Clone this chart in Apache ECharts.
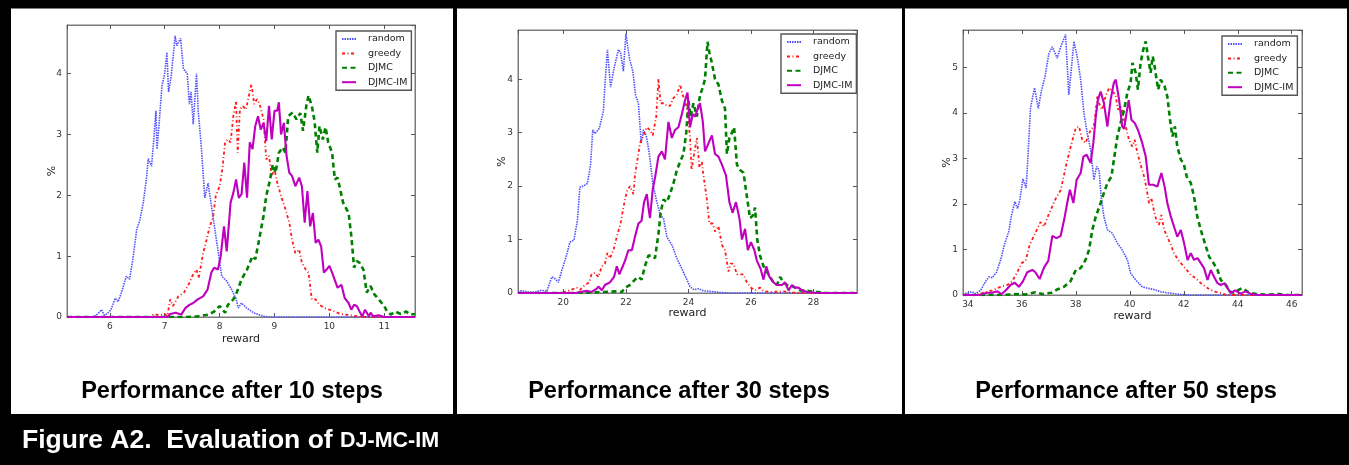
<!DOCTYPE html>
<html>
<head>
<meta charset="utf-8">
<script src="https://cdn.jsdelivr.net/npm/echarts@6/dist/echarts.min.js"></script>
<style>
html,body{margin:0;padding:0;background:#fff;}
#chart{width:1349px;height:465px;}
</style>
</head>
<body>
<div id="chart"></div>
<script>
// ---------- data (reward, %) ----------
const seriesNames = ['random', 'greedy', 'DJMC', 'DJMC-IM'];
const panelTitles = ['Performance after 10 steps', 'Performance after 30 steps', 'Performance after 50 steps'];
const figureCaption = 'Figure A2.  Evaluation of ';
const figureCaptionSmall = 'DJ-MC-IM';
const xAxisName = 'reward';
const yAxisName = '%';
const xRanges = [[5.22, 11.56], [18.55, 29.39], [33.82, 46.38]];
const yMaxes = [4.8, 4.92, 5.82];

const p10_random = [[5.22,0],[5.7,0],[5.78,0.05],[5.85,0.12],[5.9,0.03],[5.95,0.05],[6.02,0.12],[6.1,0.31],[6.15,0.25],[6.22,0.42],[6.3,0.67],[6.36,0.62],[6.42,0.95],[6.49,1.44],[6.55,1.6],[6.61,1.88],[6.67,2.3],[6.7,2.6],[6.76,2.48],[6.8,2.9],[6.84,3.39],[6.86,2.76],[6.9,3.2],[6.95,3.8],[7.0,4.0],[7.04,4.35],[7.07,3.7],[7.12,3.97],[7.19,4.62],[7.22,4.46],[7.29,4.58],[7.34,4.08],[7.41,4.0],[7.45,3.5],[7.48,3.7],[7.52,3.17],[7.58,4.0],[7.61,3.4],[7.67,2.76],[7.73,1.96],[7.79,2.2],[7.86,1.77],[7.95,1.22],[8.04,0.67],[8.13,0.59],[8.22,0.45],[8.3,0.3],[8.34,0.15],[8.4,0.23],[8.49,0.15],[8.62,0.07],[8.8,0.01],[8.9,0],[11.56,0]];
const p10_greedy = [[5.22,0],[6.75,0],[6.8,0.05],[6.9,0.03],[7.0,0.05],[7.05,0.02],[7.1,0.29],[7.15,0.18],[7.25,0.34],[7.35,0.4],[7.45,0.56],[7.5,0.67],[7.58,0.78],[7.62,0.64],[7.7,1.05],[7.75,1.22],[7.82,1.49],[7.88,1.63],[7.93,1.99],[8.0,2.15],[8.05,2.43],[8.1,2.87],[8.15,2.92],[8.2,2.87],[8.25,3.3],[8.3,3.55],[8.33,2.7],[8.37,3.41],[8.42,3.47],[8.48,3.41],[8.52,3.58],[8.58,3.83],[8.63,3.5],[8.68,3.58],[8.73,3.5],[8.8,3.25],[8.85,2.59],[8.9,2.65],[8.95,2.32],[9.0,2.43],[9.05,2.21],[9.12,1.99],[9.2,1.77],[9.27,1.55],[9.32,1.27],[9.38,1.05],[9.45,1.11],[9.5,0.89],[9.57,0.78],[9.62,0.73],[9.68,0.29],[9.75,0.29],[9.82,0.2],[9.9,0.15],[10.0,0.12],[10.1,0.09],[10.2,0.05],[10.3,0.04],[10.45,0.02],[10.6,0],[11.56,0]];
const p10_djmc = [[5.22,0],[7.4,0],[7.6,0.01],[7.8,0.04],[7.9,0.09],[8.0,0.18],[8.1,0.07],[8.15,0.2],[8.25,0.29],[8.32,0.42],[8.4,0.62],[8.5,0.78],[8.6,1.0],[8.65,0.95],[8.72,1.27],[8.8,1.66],[8.85,1.99],[8.92,2.26],[8.97,2.51],[9.02,2.37],[9.08,2.7],[9.15,2.79],[9.2,2.7],[9.25,3.3],[9.33,3.36],[9.4,3.25],[9.47,3.35],[9.52,3.06],[9.58,3.47],[9.62,3.64],[9.68,3.47],[9.73,3.22],[9.78,2.7],[9.82,3.14],[9.88,2.92],[9.93,3.12],[9.98,2.87],[10.05,2.7],[10.1,2.26],[10.15,2.29],[10.25,1.88],[10.35,1.71],[10.4,1.33],[10.45,0.81],[10.5,0.92],[10.55,0.89],[10.62,0.78],[10.68,0.4],[10.75,0.51],[10.82,0.37],[10.9,0.29],[11.0,0.18],[11.05,0.09],[11.12,0.04],[11.2,0.09],[11.3,0.05],[11.4,0.09],[11.47,0.04],[11.56,0.05]];
const p10_djmcim = [[5.22,0],[7.05,0],[7.1,0.05],[7.2,0.07],[7.3,0.04],[7.38,0.15],[7.45,0.2],[7.52,0.23],[7.6,0.29],[7.7,0.34],[7.78,0.45],[7.85,0.73],[7.9,0.81],[7.97,0.78],[8.02,1.0],[8.08,1.49],[8.13,1.08],[8.2,1.88],[8.25,2.04],[8.3,2.26],[8.35,1.96],[8.4,2.02],[8.45,2.54],[8.5,1.96],[8.55,2.87],[8.6,2.76],[8.65,3.14],[8.7,3.3],[8.75,3.08],[8.8,3.19],[8.85,2.89],[8.9,3.47],[8.95,2.92],[9.0,3.39],[9.05,3.39],[9.08,3.53],[9.12,3.0],[9.17,3.19],[9.22,2.65],[9.27,2.37],[9.32,2.32],[9.38,2.15],[9.45,2.29],[9.5,2.15],[9.55,1.55],[9.6,2.07],[9.65,1.49],[9.7,1.71],[9.75,1.22],[9.8,1.27],[9.85,1.16],[9.9,0.73],[9.95,0.78],[10.0,0.84],[10.05,0.73],[10.15,0.48],[10.22,0.53],[10.28,0.31],[10.35,0.23],[10.4,0.12],[10.45,0.2],[10.5,0.18],[10.55,0.09],[10.6,0.01],[10.65,0.12],[10.72,0.01],[10.75,0.07],[10.8,0.01],[10.9,0.03],[11.0,0],[11.56,0]];

const p30_random = [[18.55,0.02],[18.65,0.04],[18.8,0.03],[18.9,0.01],[19.1,0.02],[19.3,0.05],[19.47,0.03],[19.63,0.3],[19.73,0.27],[19.84,0.2],[19.95,0.42],[20.1,0.7],[20.21,0.95],[20.34,0.99],[20.45,1.36],[20.53,1.98],[20.64,2.0],[20.77,2.05],[20.87,2.4],[20.94,3.05],[21.01,2.98],[21.15,3.08],[21.28,3.4],[21.33,3.9],[21.41,4.55],[21.51,3.85],[21.62,4.2],[21.76,4.55],[21.83,4.5],[21.92,4.15],[22.0,4.85],[22.11,4.4],[22.22,4.15],[22.31,3.7],[22.4,3.55],[22.49,2.8],[22.56,3.05],[22.65,2.95],[22.75,2.6],[22.86,2.05],[22.99,1.7],[23.11,1.45],[23.2,1.4],[23.31,1.05],[23.47,0.9],[23.63,0.65],[23.79,0.45],[23.95,0.25],[24.05,0.12],[24.18,0.06],[24.32,0.08],[24.48,0.04],[24.69,0.03],[25.0,0.01],[25.3,0],[29.39,0]];
const p30_greedy = [[18.55,0],[19.9,0],[20.0,0.01],[20.21,0.05],[20.43,0.1],[20.53,0.06],[20.69,0.15],[20.83,0.2],[20.9,0.35],[21.01,0.38],[21.12,0.3],[21.23,0.5],[21.33,0.55],[21.41,0.75],[21.49,0.65],[21.6,0.8],[21.71,1.05],[21.83,1.3],[21.92,1.6],[22.03,1.9],[22.13,2.0],[22.24,1.85],[22.29,2.2],[22.4,2.6],[22.45,2.8],[22.56,2.95],[22.67,3.1],[22.77,3.05],[22.86,2.95],[22.97,3.3],[23.04,4.0],[23.11,3.55],[23.22,3.55],[23.31,3.5],[23.41,3.5],[23.52,3.65],[23.63,3.7],[23.73,3.9],[23.82,3.7],[23.89,3.6],[23.97,3.4],[24.05,2.9],[24.1,2.3],[24.18,2.6],[24.27,2.9],[24.35,2.35],[24.43,2.45],[24.48,2.2],[24.59,1.75],[24.67,1.3],[24.78,1.3],[24.85,1.15],[24.96,1.25],[25.07,0.9],[25.17,0.8],[25.28,0.4],[25.35,0.55],[25.44,0.55],[25.55,0.35],[25.65,0.35],[25.76,0.35],[25.87,0.2],[26.0,0.1],[26.13,0.05],[26.29,0.1],[26.4,0.03],[26.72,0.02],[27.04,0.03],[27.25,0.01],[27.6,0],[29.39,0]];
const p30_djmc = [[18.55,0],[20.5,0],[20.9,0.01],[21.28,0.02],[21.7,0.03],[21.87,0.02],[21.97,0.1],[22.13,0.15],[22.29,0.25],[22.4,0.3],[22.5,0.25],[22.61,0.5],[22.72,0.7],[22.83,0.7],[22.93,0.65],[23.04,1.1],[23.11,1.5],[23.2,1.75],[23.31,1.7],[23.41,1.85],[23.52,2.05],[23.63,2.3],[23.73,2.45],[23.84,2.6],[23.93,3.0],[24.0,3.6],[24.07,3.3],[24.16,3.55],[24.27,3.3],[24.37,3.7],[24.46,3.85],[24.53,4.0],[24.61,4.7],[24.67,4.5],[24.75,4.3],[24.85,4.0],[24.96,3.9],[25.07,3.6],[25.17,3.45],[25.23,2.6],[25.31,2.9],[25.39,3.0],[25.46,3.1],[25.55,2.4],[25.65,2.3],[25.76,2.25],[25.87,1.8],[25.97,1.4],[26.06,1.45],[26.13,1.6],[26.2,1.0],[26.29,0.7],[26.4,0.5],[26.51,0.4],[26.61,0.3],[26.72,0.2],[26.83,0.15],[26.93,0.3],[27.04,0.2],[27.15,0.15],[27.25,0.15],[27.41,0.1],[27.57,0.05],[27.73,0.05],[27.89,0.03],[28.1,0.02],[28.4,0],[29.39,0]];
const p30_djmcim = [[18.55,0],[20.4,0],[20.53,0.02],[20.75,0.04],[20.9,0.02],[21.07,0.08],[21.12,0.12],[21.23,0.05],[21.33,0.15],[21.49,0.2],[21.62,0.3],[21.71,0.5],[21.79,0.35],[21.9,0.5],[21.97,0.6],[22.08,0.8],[22.19,0.8],[22.29,1.05],[22.4,1.3],[22.5,1.35],[22.58,1.7],[22.67,1.85],[22.72,1.6],[22.77,1.4],[22.86,1.95],[22.93,2.15],[23.04,2.55],[23.15,2.65],[23.25,2.5],[23.36,3.2],[23.47,2.9],[23.57,3.05],[23.68,3.1],[23.79,3.35],[23.89,3.6],[23.97,3.75],[24.05,3.1],[24.14,3.35],[24.21,3.3],[24.3,3.45],[24.37,3.55],[24.46,3.2],[24.53,2.65],[24.64,2.8],[24.75,2.95],[24.85,2.6],[24.96,2.55],[25.07,2.4],[25.2,2.2],[25.31,1.7],[25.41,1.5],[25.52,1.7],[25.63,1.4],[25.71,1.0],[25.81,1.2],[25.9,0.8],[26.0,0.95],[26.11,0.8],[26.19,0.6],[26.31,0.45],[26.4,0.25],[26.49,0.5],[26.59,0.3],[26.72,0.2],[26.83,0.15],[26.99,0.15],[27.09,0.2],[27.2,0.05],[27.31,0.15],[27.41,0.1],[27.52,0.1],[27.63,0.05],[27.8,0.02],[28.1,0],[29.39,0]];

const p50_random = [[33.82,0],[33.9,0.03],[34.16,0.07],[34.28,0.03],[34.47,0.1],[34.66,0.3],[34.78,0.4],[34.9,0.38],[35.06,0.5],[35.23,0.8],[35.35,1.1],[35.52,1.4],[35.6,1.7],[35.74,2.05],[35.84,1.9],[35.93,2.1],[36.04,2.55],[36.16,2.35],[36.24,3.2],[36.32,4.1],[36.47,4.55],[36.61,4.1],[36.73,4.5],[36.86,4.8],[37.0,5.3],[37.13,5.45],[37.31,5.2],[37.44,5.45],[37.62,5.72],[37.74,4.4],[37.84,5.0],[37.93,5.57],[38.05,5.24],[38.18,4.73],[38.3,4.0],[38.42,3.56],[38.55,3.19],[38.67,2.53],[38.77,2.82],[38.86,2.75],[38.94,2.16],[39.04,1.72],[39.17,1.43],[39.35,1.36],[39.54,1.14],[39.72,0.99],[39.91,0.77],[40.03,0.48],[40.22,0.33],[40.46,0.18],[40.65,0.15],[40.9,0.12],[41.14,0.07],[41.5,0.04],[41.9,0.01],[42.2,0],[46.38,0]];
const p50_greedy = [[33.82,0],[34.2,0],[34.53,0.04],[34.9,0.1],[35.21,0.18],[35.46,0.22],[35.64,0.3],[35.83,0.5],[35.99,0.7],[36.14,0.75],[36.29,1.1],[36.45,1.3],[36.61,1.5],[36.69,1.6],[36.82,1.5],[36.98,1.75],[37.13,1.95],[37.28,2.15],[37.44,2.3],[37.63,2.82],[37.81,3.26],[38.0,3.67],[38.12,3.7],[38.24,3.4],[38.36,3.34],[38.55,3.63],[38.67,3.7],[38.8,4.36],[38.9,4.14],[38.98,4.07],[39.1,4.36],[39.23,4.55],[39.35,4.47],[39.47,4.4],[39.56,4.07],[39.66,4.14],[39.76,3.92],[39.88,3.63],[39.97,3.41],[40.09,3.26],[40.18,3.41],[40.28,3.12],[40.4,2.86],[40.53,2.6],[40.63,2.31],[40.71,2.02],[40.8,2.13],[40.9,1.83],[41.0,1.61],[41.08,1.54],[41.17,1.76],[41.27,1.43],[41.39,1.28],[41.52,1.1],[41.64,0.92],[41.79,0.77],[41.95,0.66],[42.11,0.55],[42.26,0.44],[42.44,0.37],[42.63,0.26],[42.81,0.18],[43.0,0.11],[43.18,0.07],[43.37,0.04],[43.6,0],[46.38,0]];
const p50_djmc = [[33.82,0],[35.2,0],[35.8,0.02],[36.14,0.01],[36.51,0.06],[36.76,0.02],[37.1,0.05],[37.3,0.12],[37.56,0.18],[37.8,0.3],[38.0,0.55],[38.18,0.59],[38.36,0.77],[38.49,0.99],[38.61,1.43],[38.74,1.72],[38.92,2.02],[39.04,2.24],[39.17,2.46],[39.32,2.6],[39.41,2.97],[39.54,3.48],[39.66,3.78],[39.79,4.07],[39.91,4.44],[40.03,4.66],[40.1,5.1],[40.22,4.88],[40.3,4.51],[40.4,5.1],[40.5,5.39],[40.59,5.57],[40.67,5.24],[40.77,4.88],[40.85,5.24],[40.92,5.02],[41.05,4.51],[41.14,4.73],[41.29,4.58],[41.39,4.36],[41.49,3.85],[41.58,3.48],[41.67,3.7],[41.76,3.26],[41.89,2.97],[41.99,2.9],[42.11,2.6],[42.26,2.46],[42.38,2.16],[42.5,1.72],[42.63,1.43],[42.78,1.14],[42.94,0.84],[43.1,0.7],[43.25,0.55],[43.37,0.33],[43.56,0.22],[43.7,0.08],[43.85,0.05],[44.0,0.1],[44.15,0.15],[44.3,0.1],[44.42,0.05],[44.7,0.02],[45.04,0.01],[45.53,0.02],[45.8,0],[46.38,0]];
const p50_djmcim = [[33.82,0],[34.4,0],[34.53,0.02],[34.72,0.05],[34.9,0.05],[35.09,0.08],[35.25,0.02],[35.4,0.1],[35.58,0.22],[35.74,0.27],[35.89,0.18],[36.04,0.3],[36.2,0.5],[36.39,0.55],[36.5,0.5],[36.66,0.35],[36.82,0.6],[36.98,0.75],[37.13,1.3],[37.28,1.25],[37.44,1.3],[37.59,1.72],[37.68,2.02],[37.78,2.31],[37.91,2.02],[38.03,2.53],[38.18,2.68],[38.28,3.04],[38.4,3.08],[38.55,2.9],[38.65,3.34],[38.74,3.92],[38.82,4.29],[38.92,4.47],[39.04,4.22],[39.17,3.7],[39.29,4.29],[39.41,4.66],[39.48,4.73],[39.6,4.3],[39.72,3.7],[39.79,3.65],[39.88,4.0],[39.96,4.28],[40.06,3.85],[40.18,3.78],[40.3,3.63],[40.46,3.34],[40.59,3.04],[40.71,2.42],[40.87,2.42],[41.02,2.38],[41.17,2.68],[41.29,2.38],[41.39,2.02],[41.52,1.72],[41.64,1.5],[41.76,1.28],[41.89,1.43],[42.01,1.14],[42.14,0.77],[42.26,0.92],[42.38,0.77],[42.51,0.81],[42.63,0.7],[42.75,0.59],[42.88,0.33],[43.0,0.55],[43.12,0.4],[43.25,0.26],[43.37,0.22],[43.52,0.26],[43.62,0.15],[43.74,0.04],[43.9,0.1],[44.1,0.03],[44.3,0.08],[44.5,0.02],[44.8,0],[46.38,0]];

const panelData = [
  [p10_random, p10_greedy, p10_djmc, p10_djmcim],
  [p30_random, p30_greedy, p30_djmc, p30_djmcim],
  [p50_random, p50_greedy, p50_djmc, p50_djmcim]
];

// ---------- layout & style ----------
const grids = [
  {left: 67, top: 25, width: 348, height: 292},
  {left: 518, top: 30, width: 339, height: 263},
  {left: 963, top: 30, width: 339, height: 265}
];
const xSplit = [6, 5, 6];
const xNameGaps = [17, 15, 16];
const yNameGaps = [9.5, 10, 10];
const legendPos = [{left: 336, top: 31}, {left: 781, top: 34}, {left: 1222, top: 36}];
const titleCenters = [232, 679, 1126];
const lineStyles = [
  {color: '#5050ff', width: 1.6, type: [1.5, 1]},
  {color: '#ff1a1a', width: 1.8, type: [3, 2.5, 1, 2.5]},
  {color: '#008000', width: 2.6, type: [5, 3.5]},
  {color: '#bf00bf', width: 2.1, type: 'solid'}
];
const frameColor = '#7a7a7a';
const tickFont = {fontFamily: 'DejaVu Sans', fontSize: 9, color: '#333'};
const intFmt = v => (Math.abs(v - Math.round(v)) < 1e-6 ? String(Math.round(v)) : '');

const xAxes = [], yAxes = [], series = [], legends = [];
for (let p = 0; p < 3; p++) {
  const common = {
    gridIndex: p, type: 'value',
    axisLine: {show: true, onZero: false, lineStyle: {color: frameColor, width: 1}},
    axisTick: {show: true, inside: true, length: 4, lineStyle: {color: '#555', width: 1}},
    splitLine: {show: false}
  };
  xAxes.push(Object.assign({}, common, {
    position: 'bottom', min: xRanges[p][0], max: xRanges[p][1], splitNumber: xSplit[p],
    axisLabel: Object.assign({formatter: intFmt, margin: 5, showMinLabel: false, showMaxLabel: false}, tickFont),
    name: xAxisName, nameLocation: 'middle', nameGap: xNameGaps[p], nameMoveOverlap: false,
    nameTextStyle: {fontFamily: 'DejaVu Sans', fontSize: 11, color: '#222'}
  }));
  yAxes.push(Object.assign({}, common, {
    position: 'left', min: 0, max: yMaxes[p], interval: 1,
    axisLabel: Object.assign({formatter: intFmt, margin: 5, showMaxLabel: false}, tickFont),
    name: yAxisName, nameLocation: 'middle', nameGap: yNameGaps[p], nameRotate: 90, nameMoveOverlap: false,
    nameTextStyle: {fontFamily: 'DejaVu Sans', fontSize: 11, color: '#222'}
  }));
}
for (let p = 0; p < 3; p++) {
  const mirror = {
    gridIndex: p, type: 'value',
    axisLine: {show: true, onZero: false, lineStyle: {color: frameColor, width: 1}},
    axisTick: {show: true, inside: true, length: 4, lineStyle: {color: '#555', width: 1}},
    axisLabel: {show: false}, splitLine: {show: false}
  };
  xAxes.push(Object.assign({}, mirror, {position: 'top', min: xRanges[p][0], max: xRanges[p][1], splitNumber: xSplit[p]}));
  yAxes.push(Object.assign({}, mirror, {position: 'right', min: 0, max: yMaxes[p], interval: 1}));
}
for (let p = 0; p < 3; p++) {
  for (let s = 0; s < 4; s++) {
    series.push({
      type: 'line', name: seriesNames[s], xAxisIndex: p, yAxisIndex: p,
      data: panelData[p][s], showSymbol: false, symbol: 'none',
      lineStyle: Object.assign({}, lineStyles[s]), itemStyle: {color: lineStyles[s].color},
      z: 2 + s, animation: false, silent: true
    });
  }
  legends.push({
    data: seriesNames, orient: 'vertical', left: legendPos[p].left, top: legendPos[p].top,
    itemWidth: 14, itemHeight: 10, itemGap: 4.4, selectedMode: false,
    itemStyle: {opacity: 0, borderWidth: 0},
    padding: [3, 4, 3, 5], borderColor: '#555', borderWidth: 1.4, borderRadius: 0,
    backgroundColor: '#fff',
    textStyle: {fontFamily: 'DejaVu Sans', fontSize: 9.5, color: '#222', padding: [0, 0, 0, 7]}
  });
}

const graphics = [
  {type: 'rect', shape: {x: 0, y: 0, width: 1349, height: 8.5}, style: {fill: '#000'}},
  {type: 'rect', shape: {x: 0, y: 0, width: 11, height: 465}, style: {fill: '#000'}},
  {type: 'rect', shape: {x: 1347, y: 0, width: 2, height: 465}, style: {fill: '#000'}},
  {type: 'rect', shape: {x: 453, y: 0, width: 4, height: 414}, style: {fill: '#000'}},
  {type: 'rect', shape: {x: 902, y: 0, width: 3, height: 414}, style: {fill: '#000'}},
  {type: 'rect', shape: {x: 0, y: 414, width: 1349, height: 51}, style: {fill: '#000'}}
];
for (let p = 0; p < 3; p++) {
  graphics.push({
    type: 'text', x: titleCenters[p], y: 392,
    style: {text: panelTitles[p], textAlign: 'center', textVerticalAlign: 'middle',
      font: 'bold 23.5px "Liberation Sans", Arial, sans-serif', fill: '#000'}
  });
}
graphics.push({
  type: 'text', x: 22, y: 441,
  style: {
    text: '{a|' + figureCaption + '}{b|' + figureCaptionSmall + '}',
    textVerticalAlign: 'middle', textAlign: 'left',
    rich: {
      a: {fontFamily: '"Liberation Sans", Arial, sans-serif', fontWeight: 'bold', fontSize: 26.5, fill: '#fff', color: '#fff'},
      b: {fontFamily: '"Liberation Sans", Arial, sans-serif', fontWeight: 'bold', fontSize: 21.5, fill: '#fff', color: '#fff'}
    }
  }
});

const chart = echarts.init(document.getElementById('chart'), null, {renderer: 'canvas'});
chart.setOption({
  backgroundColor: '#fff',
  animation: false,
  grid: grids.map(g => Object.assign({show: true, borderColor: frameColor, borderWidth: 1, backgroundColor: '#fff'}, g)),
  xAxis: xAxes,
  yAxis: yAxes,
  legend: legends,
  series: series,
  graphic: graphics
});
</script>
</body>
</html>
